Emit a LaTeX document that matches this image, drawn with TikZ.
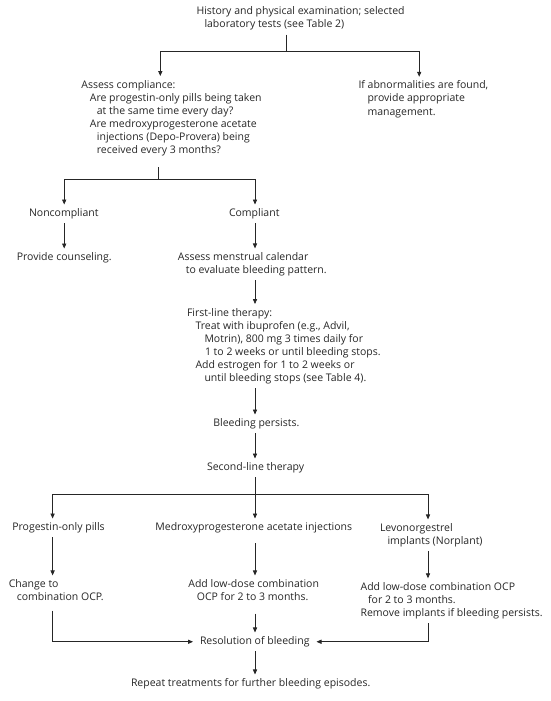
\documentclass[tikz,border=0pt]{standalone}
\usepackage{fontspec}
\setmainfont{Open Sans}
\usetikzlibrary{arrows.meta}
\begin{document}
\begin{tikzpicture}[x=1pt,y=-1pt,
  txt/.style={align=left, anchor=base west, inner xsep=0pt, inner ysep=4pt, outer sep=0pt,
    font=\fontsize{10.5}{13.1}\selectfont, text=black!85},
  arr/.style={-{Triangle[length=5pt,width=4.2pt]}},
  ln/.style={line width=0.75pt, draw=black!85}]
\useasboundingbox (0,0) rectangle (550,701);
% multi-line nodes are placed by the baseline of their last line
\node[txt] (top) at (196.5,28) {History and physical examination; selected\\\hspace*{8pt}laboratory tests (see Table 2)};
\node[txt] (assess) at (81.4,153.5) {Assess compliance:\\\hspace*{8.5pt}Are progestin-only pills being taken\\\hspace*{15.5pt}at the same time every day?\\\hspace*{8.5pt}Are medroxyprogesterone acetate\\\hspace*{15.5pt}injections (Depo-Provera) being\\\hspace*{15.5pt}received every 3 months?};
\node[txt] (abn) at (358.5,115) {If abnormalities are found,\\\hspace*{9pt}provide appropriate\\\hspace*{9pt}management.};
\node[txt] (nonc) at (29,216.5) {Noncompliant};
\node[txt] (comp) at (229,216.5) {Compliant};
\node[txt] (couns) at (16.8,260.5) {Provide counseling.};
\node[txt] (mens) at (177.9,273.5) {Assess menstrual calendar\\\hspace*{8pt}to evaluate bleeding pattern.};
\node[txt] (first) at (187,381.5) {First-line therapy:\\\hspace*{8.5pt}Treat with ibuprofen (e.g., Advil,\\\hspace*{17.5pt}Motrin), 800 mg 3 times daily for\\\hspace*{18pt}1 to 2 weeks or until bleeding stops.\\\hspace*{8.5pt}Add estrogen for 1 to 2 weeks or\\\hspace*{17.5pt}until bleeding stops (see Table 4).};
\node[txt] (pers) at (213.3,426.5) {Bleeding persists.};
\node[txt] (second) at (207,470.5) {Second-line therapy};
\node[txt] (pop) at (12.3,530.5) {Progestin-only pills};
\node[txt] (mpa) at (155.4,530.5) {Medroxyprogesterone acetate injections};
\node[txt] (levo) at (380,544.5) {Levonorgestrel\\\hspace*{7.5pt}implants (Norplant)};
\node[txt] (chg) at (8.8,600.5) {Change to\\\hspace*{8pt}combination OCP.};
\node[txt] (add1) at (188.4,600.5) {Add low-dose combination\\\hspace*{8.5pt}OCP for 2 to 3 months.};
\node[txt] (add2) at (360.6,616.5) {Add low-dose combination OCP\\\hspace*{7.5pt}for 2 to 3 months.\\Remove implants if bleeding persists.};
\node[txt, inner xsep=7pt] (res) at (193,644.5) {Resolution of bleeding};
\node[txt] (rep) at (131,686.5) {Repeat treatments for further bleeding episodes.};
\coordinate (j1) at (286,51.5);
\coordinate (xA) at (160.3,0);
\coordinate (xB) at (419.2,0);
\coordinate (j2) at (158.6,179);
\coordinate (xN) at (64.2,0);
\coordinate (xM) at (255,0);
\coordinate (j3) at (255,494);
\coordinate (xL) at (52.6,0);
\coordinate (xR) at (428,0);
\draw[ln] (top.south -| j1) -- (j1);
\draw[ln,arr] (j1) -| (assess.north -| xA);
\draw[ln,arr] (j1) -| (abn.north -| xB);
\draw[ln,shorten <=7pt] (assess.south -| j2) -- (j2);
\draw[ln,arr] (j2) -| (nonc.north -| xN);
\draw[ln,arr] (j2) -| (comp.north -| xM);
\draw[ln,arr] (nonc.south -| xN) -- (couns.north -| xN);
\draw[ln,arr] (comp.south -| xM) -- (mens.north -| xM);
\draw[ln,arr] (mens.south -| xM) -- (first.north -| xM);
\draw[ln,arr] (first.south -| xM) -- (pers.north -| xM);
\draw[ln,arr] (pers.south -| xM) -- (second.north -| xM);
\draw[ln] (second.south -| xM) -- (j3);
\draw[ln,arr] (j3) -| (pop.north -| xL);
\draw[ln,arr] (j3) -- (mpa.north -| xM);
\draw[ln,arr] (j3) -| (levo.north -| xR);
\draw[ln,arr] (pop.south -| xL) -- (chg.north -| xL);
\draw[ln,arr,shorten <=6pt] (mpa.south -| xM) -- (add1.north -| xM);
\draw[ln,arr] (levo.south -| xR) -- (add2.north -| xR);
\draw[ln,arr,shorten <=6pt] (chg.south -| xL) |- (res.west);
\draw[ln,arr,shorten <=9pt] (add1.south -| xM) -- (res.north -| xM);
\draw[ln,arr] (add2.south -| xR) |- (res.east);
\draw[ln,arr] (res.south -| xM) -- (rep.north -| xM);
\end{tikzpicture}
\end{document}
